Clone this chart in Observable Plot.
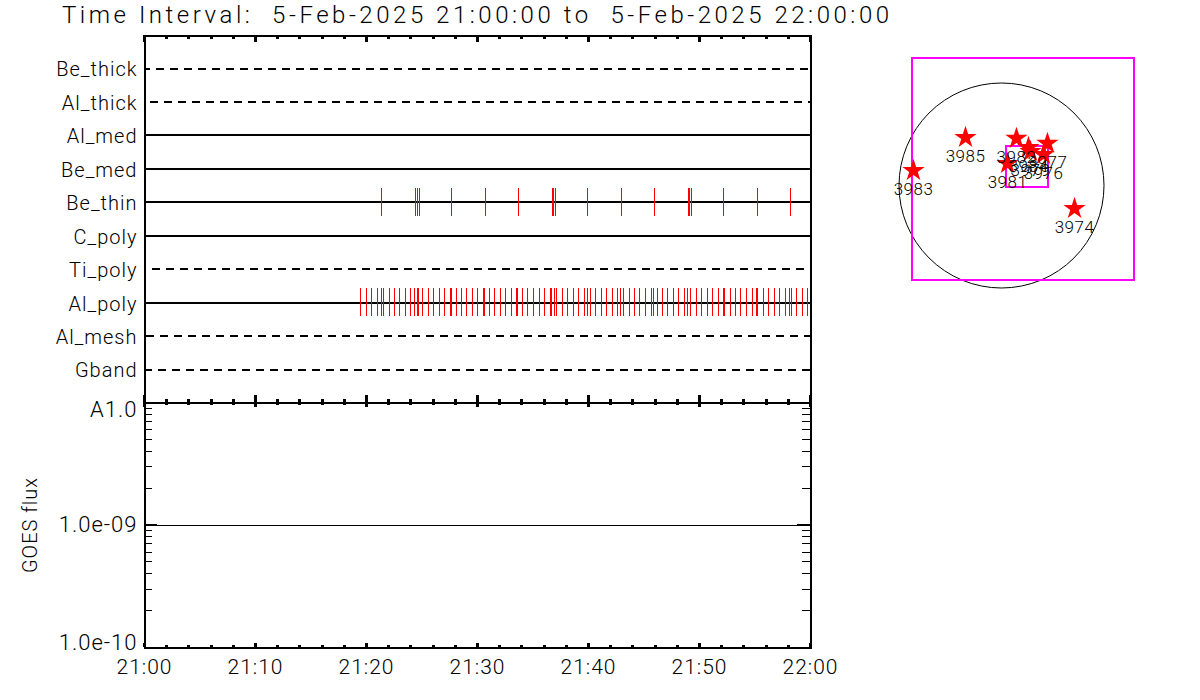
<!DOCTYPE html>
<html><head><meta charset="utf-8">
<script src="https://cdn.jsdelivr.net/npm/d3@7"></script>
<script src="https://cdn.jsdelivr.net/npm/@observablehq/plot@0.6"></script>
<style>
html,body{margin:0;padding:0;background:#fff;width:1200px;height:700px;overflow:hidden}
#title{position:absolute;left:62px;top:-1px;white-space:pre;font:300 24px Roboto,sans-serif;letter-spacing:3.53px;color:#000;line-height:32px}
.p{position:absolute}
</style></head><body>
<div id="title">Time Interval:  5-Feb-2025 21:00:00 to  5-Feb-2025 22:00:00</div>
<div id="a" class="p" style="left:0;top:0"></div>
<div id="b" class="p" style="left:0;top:402px"></div>
<div id="c" class="p" style="left:880px;top:40px"></div>
<script>
const channels = ["Be_thick","Al_thick","Al_med","Be_med","Be_thin","C_poly","Ti_poly","Al_poly","Al_mesh","Gband"];
const dashedChannels = ["Be_thick","Al_thick","Ti_poly","Al_mesh","Gband"];
const beThinMinutes = [21.35,24.41,24.59,24.77,27.66,30.72,33.69,36.76,36.85,37.03,39.91,42.97,45.95,49.01,49.10,49.28,52.16,55.23,58.20];
const alPolyMinutes = [19.46,20.00,20.45,20.99,21.35,21.53,22.07,22.52,22.97,23.51,23.96,24.32,24.59,24.68,25.05,25.59,26.04,26.58,27.03,27.57,27.66,28.11,28.56,29.01,29.55,30.00,30.54,30.63,31.08,31.53,32.07,32.52,33.06,33.51,33.60,34.05,34.50,35.05,35.59,36.04,36.58,36.67,36.94,37.12,37.66,38.11,38.65,39.10,39.64,39.91,40.18,40.63,41.17,41.62,42.16,42.61,42.88,43.15,43.69,44.14,44.59,45.14,45.68,45.86,46.22,46.67,47.12,47.66,48.11,48.65,48.92,49.19,49.73,50.18,50.72,51.17,51.71,52.16,52.25,52.79,53.24,53.69,54.23,54.77,55.14,55.23,55.77,56.22,56.76,57.21,57.75,58.11,58.29,58.74,59.28,59.73];
const goesMinutes = [0,60];
const goesFlux = [1e-9,1e-9];
const majorMinutes = [0,10,20,30,40,50,60];
const minorMinutes = [2,4,6,8,12,14,16,18,22,24,26,28,32,34,36,38,42,44,46,48,52,54,56,58];
const timeLabels = ["21:00","21:10","21:20","21:30","21:40","21:50","22:00"];
const fluxMajor = [1e-10,1e-9,1e-8];
const fluxLabels = ["1.0e-10","1.0e-09","A1.0"];
const fluxMinor = [2e-10,3e-10,4e-10,5e-10,6e-10,7e-10,8e-10,9e-10,2e-9,3e-9,4e-9,5e-9,6e-9,7e-9,8e-9,9e-9];
const fluxTitle = ["GOES flux"];
const arNames = ["3983","3985","3982","3984","3977","3976","3981","3979","3974"];
const arX = [-829,-339,141,254,433,396,57,273,688];
const arY = [141,452,443,358,396,292,207,320,-217];
const fovX1 = [-838,47], fovX2 = [1253,443], fovY1 = [-895,-19], fovY2 = [1196,367];

const FONT = "Roboto, sans-serif";
const crisp = {shapeRendering:"crispEdges"};
const dashOffset = {Be_thick:2, Al_thick:8, Ti_poly:6, Al_mesh:12, Gband:0};
const textStyle = {fontFamily:FONT, fontSize:"20px", fontWeight:300, letterSpacing:"1px", background:"transparent", overflow:"visible"};

// Inward frame ticks: a rule across the frame, inset so only `size` pixels remain.
const PLOT_W = 666;
const topTicks = (ticks, size, h) => Plot.ruleX(ticks, {x:d=>d, insetBottom:h-size, stroke:"#000", strokeWidth:3, ...crisp});
const botTicks = (ticks, size, h) => Plot.ruleX(ticks, {x:d=>d, insetTop:h-size, stroke:"#000", strokeWidth:3, ...crisp});
const leftTicks = (ticks, size, w) => Plot.ruleY(ticks, {y:d=>d, insetRight:PLOT_W-size, stroke:"#000", strokeWidth:w, ...crisp});
const rightTicks = (ticks, size, w) => Plot.ruleY(ticks, {y:d=>d, insetLeft:PLOT_W-size, stroke:"#000", strokeWidth:w, ...crisp});

const rows = channels.map(c => Plot.ruleY([c], {
  x1:0, x2:60, stroke:"#000", strokeWidth:2, ...crisp,
  ...(dashedChannels.includes(c) ? {strokeDasharray:"8 6", strokeDashoffset:dashOffset[c]} : {})
}));
const events = [["Be_thin",beThinMinutes],["Al_poly",alPolyMinutes]].map(([c,m]) =>
  Plot.ruleX(m, {x:d=>d, y1:()=>c, y2:()=>c, stroke:"#f00", strokeWidth:1, strokeOpacity:1, insetTop:-14, insetBottom:-14, ...crisp}));

const H1 = 367;
const filterPlot = Plot.plot({
  width:860, height:410, marginLeft:144, marginRight:50, marginTop:35, marginBottom:8,
  style:textStyle,
  x:{axis:null, domain:[0,60], range:[144,810]},
  y:{type:"point", domain:channels, range:[68,369], padding:0, round:false},
  marks:[
    ...rows, ...events,
    Plot.frame({stroke:"#000", strokeWidth:2, ...crisp}),
    topTicks(minorMinutes,4,H1), topTicks(majorMinutes,7,H1),
    botTicks(minorMinutes,3,H1), botTicks(majorMinutes,7,H1),
    Plot.axisY({tickSize:0, tickPadding:7, dy:1.5, label:null, fill:"#000"})
  ]
});
document.getElementById("a").append(filterPlot);

const lab = d => fluxLabels[fluxMajor.indexOf(d)];
const fluxAxis = (v, dy) => Plot.axisY({anchor:"left", ticks:[v], tickSize:0, tickPadding:7, dy, tickFormat:lab, fontSize:22, label:null, fill:"#000"});
const H2 = 245;
const goesPlot = Plot.plot({
  width:860, height:280, marginLeft:144, marginRight:50, marginTop:0, marginBottom:35,
  style:{...textStyle, fontSize:"21px"},
  x:{domain:[0,60], range:[144,810]},
  y:{type:"log", domain:[1e-10,1e-8], range:[245,0]},
  marks:[
    Plot.line(goesMinutes.map((t,i)=>({t,f:goesFlux[i]})), {x:"t", y:"f", stroke:"#000", strokeWidth:1, ...crisp}),
    Plot.frame({stroke:"#000", strokeWidth:2, ...crisp}),
    topTicks(minorMinutes,3,H2), topTicks(majorMinutes,5,H2),
    botTicks(minorMinutes,2,H2), botTicks(majorMinutes,4,H2),
    leftTicks(fluxMinor,8,1), rightTicks(fluxMinor,8,1),
    leftTicks(fluxMajor,13,2), rightTicks(fluxMajor,13,2),
    fluxAxis(1e-8,7), fluxAxis(1e-9,0), fluxAxis(1e-10,-5),
    Plot.text(fluxTitle, {text:d=>d, frameAnchor:"left", textAnchor:"middle", rotate:-90, dx:-114, fontSize:20, fill:"#000"}),
    Plot.axisX({anchor:"bottom", ticks:majorMinutes, tickSize:0, tickPadding:12, tickFormat:d=>timeLabels[majorMinutes.indexOf(d)], label:null, fill:"#000"})
  ]
});
document.getElementById("b").append(goesPlot);

const ctx = Plot.plot({
  width:280, height:260, margin:0,
  style:{fontFamily:FONT, fontSize:"17px", fontWeight:300, letterSpacing:"0.5px", background:"transparent"},
  x:{axis:null, domain:[-1139.82,1497.78]},
  y:{axis:null, domain:[-1083.3,1365.9]},
  marks:[
    Plot.dot([0], {x:()=>0, y:()=>0, r:102.5, stroke:"#000", strokeWidth:1, fill:"none"}),
    Plot.rect(fovX1.map((_,i)=>i), {x1:i=>fovX1[i], x2:i=>fovX2[i], y1:i=>fovY1[i], y2:i=>fovY2[i], fill:"none", stroke:"#f0f", strokeWidth:2, ...crisp}),
    Plot.dot(arNames, {x:(d,i)=>arX[i], y:(d,i)=>arY[i], symbol:"star", r:7, fill:"#f00", stroke:"none"}),
    Plot.text(arNames, {x:(d,i)=>arX[i], y:(d,i)=>arY[i], text:d=>d, dy:19, fill:"#000"})
  ]
});
document.getElementById("c").append(ctx);
</script>
</body></html>
